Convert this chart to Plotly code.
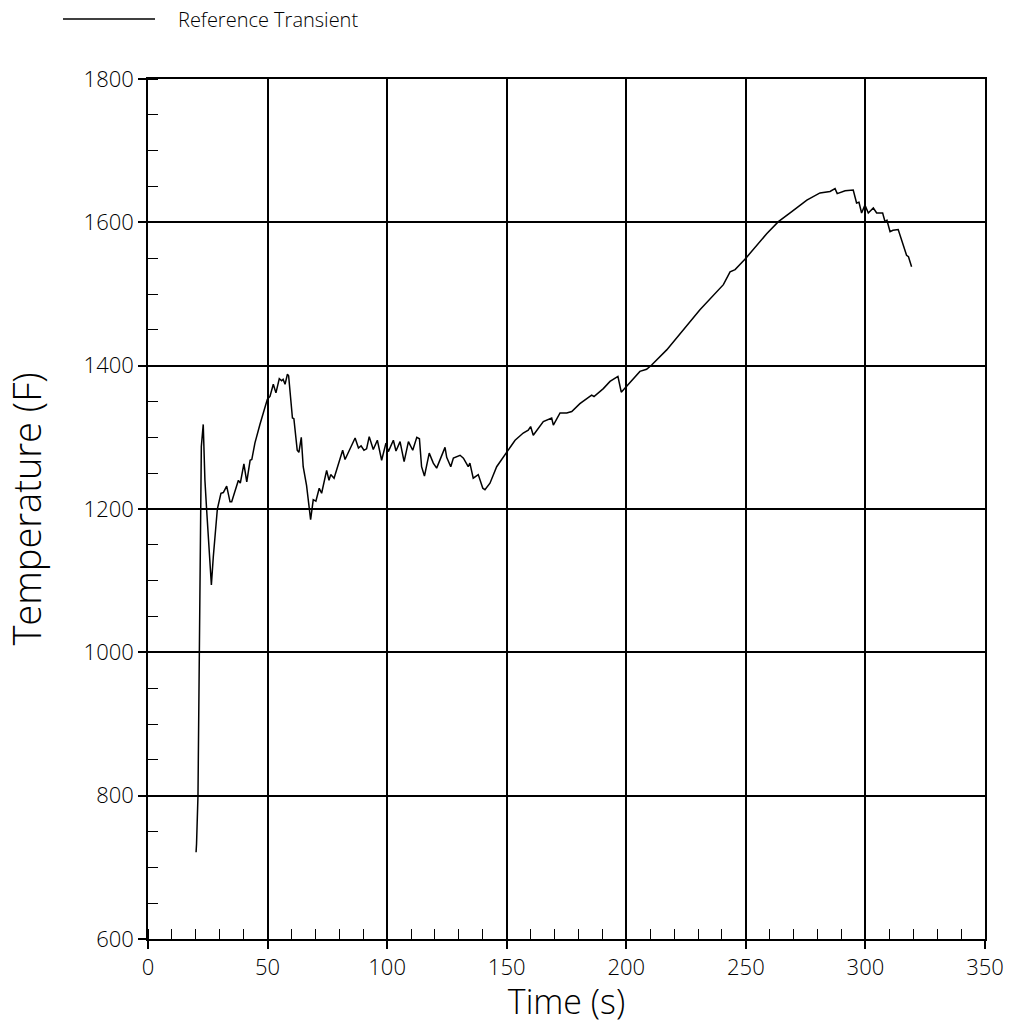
import plotly.graph_objects as go

# Time (s) and temperature (F)
time_s = [20.1, 20.3, 20.9, 21.5, 21.8, 22.3, 23.1, 23.8, 24.5, 25.6, 26.5, 27.3, 28.4, 29.0,
          30.5, 31.5, 32.9, 34.3, 35.0, 37.8, 38.6, 40.1, 41.3, 42.7, 43.4, 44.7, 46.8,
          49.9, 51.0, 52.4, 53.5, 54.9, 55.9, 56.5, 57.3, 58.3, 58.8, 59.7, 60.4, 61.0,
          62.4, 63.1, 64.1, 64.9, 66.3, 68.0, 69.1, 70.2, 71.6, 72.6, 74.7, 75.7, 76.4,
          77.8, 81.4, 82.4, 86.6, 88.0, 89.1, 90.3, 91.4, 92.5, 94.2, 95.9, 97.7, 99.5,
          100.5, 102.6, 103.7, 105.4, 107.1, 108.9, 110.7, 112.4, 113.5, 114.4, 115.6,
          117.6, 119.3, 120.7, 124.2, 124.9, 126.6, 127.7, 130.5, 131.9, 133.9, 134.6,
          136.0, 138.1, 140.0, 140.9, 143.0, 145.8, 150.0, 153.5, 156.9, 159.0, 160.0,
          161.1, 165.3, 168.8, 169.5, 172.3, 175.1, 177.2, 180.6, 185.5, 186.5, 190.4,
          193.2, 196.5, 197.9, 200.2, 203.0, 205.7, 208.5, 210.6, 216.9, 230.8, 240.6,
          243.4, 245.5, 250.0, 258.7, 263.6, 269.2, 275.5, 281.0, 285.2, 287.3, 288.2,
          291.5, 294.9, 296.3, 297.3, 298.4, 299.8, 301.2, 303.3, 304.7, 307.2, 308.2,
          309.0, 310.3, 311.5, 313.7, 315.8, 317.2, 318.0, 319.3]
temp_f = [721, 733, 800, 1000, 1200, 1287, 1318, 1240, 1200, 1138, 1094, 1133, 1185, 1200,
          1222, 1223, 1232, 1210, 1210, 1240, 1236, 1263, 1238, 1268, 1269, 1292, 1318,
          1353, 1357, 1374, 1362, 1382, 1379, 1381, 1374, 1388, 1386, 1357, 1327, 1326,
          1282, 1279, 1300, 1259, 1233, 1185, 1213, 1211, 1229, 1222, 1254, 1240, 1248,
          1243, 1282, 1269, 1299, 1285, 1288, 1282, 1284, 1301, 1283, 1296, 1268, 1292,
          1280, 1296, 1281, 1294, 1266, 1294, 1282, 1300, 1298, 1259, 1246,
          1278, 1264, 1257, 1286, 1272, 1259, 1271, 1275, 1271, 1259, 1264,
          1243, 1248, 1229, 1227, 1236, 1259, 1280, 1296, 1306, 1310, 1315,
          1303, 1322, 1327, 1317, 1334, 1334, 1336, 1347, 1359, 1357, 1368,
          1378, 1385, 1363, 1372, 1382, 1392, 1395, 1401, 1422, 1478, 1513,
          1531, 1534, 1550, 1584, 1601, 1615, 1631, 1641, 1643, 1647, 1640,
          1644, 1645, 1627, 1628, 1613, 1624, 1613, 1620, 1613, 1613, 1601,
          1603, 1587, 1589, 1590, 1568, 1554, 1552, 1538]

series_name = "Reference Transient"
x_ticks = [0, 50, 100, 150, 200, 250, 300, 350]
y_ticks = [600, 800, 1000, 1200, 1400, 1600, 1800]

FONT = "Open Sans"

fig = go.Figure()
fig.add_trace(go.Scatter(x=time_s, y=temp_f, mode="lines", name=series_name,
                         line=dict(color="black", width=1.5), showlegend=False))

axis_common = dict(
    showgrid=True, gridcolor="black", gridwidth=1.5,
    showline=True, linecolor="black", linewidth=1.5, mirror=True,
    ticks="outside", ticklen=8, tickwidth=1.5, tickcolor="black",
    zeroline=False, automargin=True,
    tickfont=dict(family=FONT, size=22, color="black", weight=300),
)

fig.update_xaxes(range=[0, 350], tickvals=x_ticks,
                 minor=dict(dtick=10, ticks="inside", ticklen=10, tickwidth=1, tickcolor="black", showgrid=False),
                 title=dict(text="Time (s)", font=dict(family=FONT, size=34, color="black", weight=300), standoff=2),
                 **axis_common)
fig.update_yaxes(range=[600, 1800], tickvals=y_ticks,
                 minor=dict(dtick=50, ticks="inside", ticklen=10, tickwidth=1, tickcolor="black", showgrid=False),
                 title=dict(text="Temperature (F)", font=dict(family=FONT, size=38, color="black", weight=300), standoff=36),
                 **axis_common)

# page body margin is removed below; plot area sits at x 148-985, y 79-939
W, H = 1015, 1024
ML, MT, PW, PH = 148, 79, 837, 860

# legend-style key at top left
ky = (PH + MT - 19) / PH
fig.add_shape(type="line", xref="paper", yref="paper",
              x0=(63 - ML) / PW, x1=(155 - ML) / PW, y0=ky, y1=ky,
              line=dict(color="black", width=1.5))
fig.add_annotation(xref="paper", yref="paper", x=(176 - ML) / PW, y=ky,
                   xanchor="left", yanchor="middle", showarrow=False,
                   text=series_name, font=dict(family=FONT, size=20, color="black", weight=300))

fig.update_layout(
    width=W, height=H,
    margin=dict(l=ML, r=W - ML - PW, t=MT, b=H - MT - PH),
    paper_bgcolor="white", plot_bgcolor="white",
    font=dict(family=FONT, color="black"),
)

fig.write_html("out.html", config={"displayModeBar": False},
               post_script="document.body.style.margin='0';document.body.style.overflow='hidden';")
